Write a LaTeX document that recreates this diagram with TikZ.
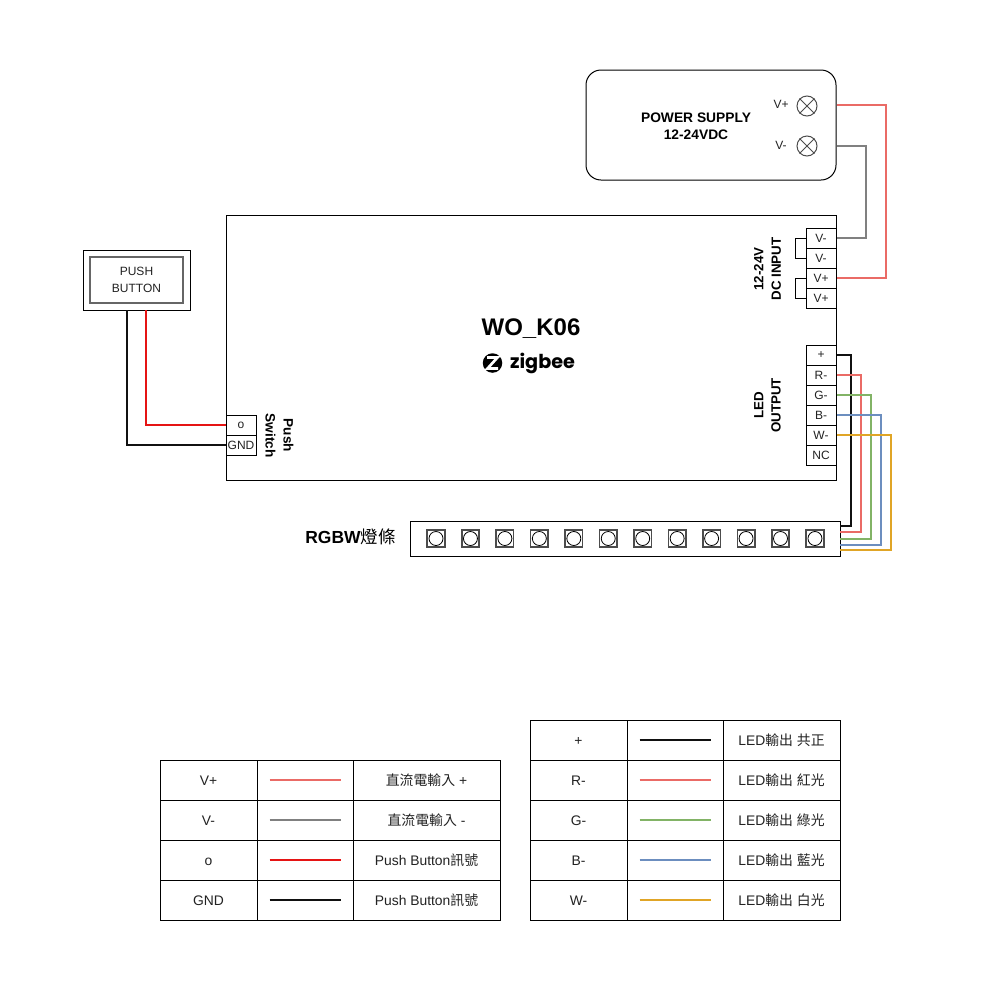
\documentclass[tikz,border=0pt]{standalone}
\usepackage{fontspec}
\setmainfont{Liberation Sans}
\newfontfamily\cjk{Noto Sans CJK TC}
\newfontfamily\zbfont{Poppins}
\usetikzlibrary{calc}
\definecolor{wsalmon}{HTML}{EA6B66}
\definecolor{wgray}{HTML}{808080}
\definecolor{wred}{HTML}{E51414}
\definecolor{wblack}{HTML}{111111}
\definecolor{wgreen}{HTML}{82B366}
\definecolor{wblue}{HTML}{6C8EBF}
\definecolor{wgold}{HTML}{E0A526}
\definecolor{ink}{HTML}{222222}
\def\u{0.75pt}
\newcommand{\C}[1]{{\cjk #1}}
\tikzset{
  px/.style={x=\u,y=-\u},
  txt/.style={font=\fontsize{9}{12.75}\selectfont,text=ink,inner sep=0pt,align=center},
  boldtxt/.style={font=\fontsize{10}{13}\selectfont\bfseries,text=black,inner sep=0pt,align=center},
  box/.style={draw=black,line width=\u,inner sep=0pt,fill=white},
  cell/.style={box,minimum width=30*\u,minimum height=20*\u,font=\fontsize{9}{11}\selectfont,text=ink},
  wire/.style={line width=1.5pt,line join=miter},
  lampc/.style={circle,draw=black!70,line width=\u,minimum size=20*\u,inner sep=0pt},
  led/.style={draw=black!70,line width=1.2pt,fill=white,minimum size=17.5*\u,inner sep=0pt},
  ledc/.style={circle,draw=black,line width=0.6pt,minimum size=14*\u,inner sep=0pt},
  legcell/.style={box,minimum height=40*\u,text height=9pt,text depth=1.5pt,font=\fontsize{10.4}{12}\selectfont,text=ink},
}
% name, x left, x mid1, x mid2, x right, y top, label, colour, text
\newcommand{\legrow}[9]{%
  \node[legcell,minimum width={(#3-#2)*\u}] (#1a) at ({(#2+#3)/2},{#6+20}) {#7};
  \node[legcell,minimum width={(#4-#3)*\u}] (#1b) at ({(#3+#4)/2},{#6+20}) {};
  \node[legcell,minimum width={(#5-#4)*\u}] (#1c) at ({(#4+#5)/2},{#6+20}) {#9};
  \draw[wire,#8] ([xshift=13*\u]#1b.west) -- ([xshift=-13*\u]#1b.east);
}
\begin{document}
\begin{tikzpicture}[px]
\useasboundingbox[fill=white] (0,0) rectangle (1000,1000);

% power supply
\node[box,rounded corners=15*\u,minimum width=250*\u,minimum height=110*\u] (ps) at (711,125) {};
\node[boldtxt,font=\fontsize{10.35}{12.75}\selectfont\bfseries] (pslabel) at (696,126) {POWER SUPPLY\\12-24VDC};
\node[lampc] (lp) at (807,106) {};
\node[lampc] (lm) at (807,146) {};
\foreach \l in {lp,lm}{
  \draw[black!70,line width=\u] (\l.north west) -- (\l.south east) (\l.north east) -- (\l.south west);
}
\node[txt,font=\fontsize{9}{10}\selectfont] (lptext) at (781,104.5) {V+};
\node[txt,font=\fontsize{9}{10}\selectfont] (lmtext) at (781,145) {V-};

% controller
\node[box,minimum width=610*\u,minimum height=265*\u] (board) at (531,347.5) {};
\node[font=\fontsize{18}{20}\selectfont\bfseries,inner sep=0pt] (title) at (531,329) {WO\_K06};
\node[circle,fill=black,minimum size=19.5*\u,inner sep=0pt] (zlogo) at (492.5,363) {};
\draw[white,line width=2pt,line join=miter] ($(zlogo)+(-5.5,-5.5)$) -- ($(zlogo)+(5,-5.5)$) -- ($(zlogo)+(-5,5.5)$) -- ($(zlogo)+(5.5,5.5)$);
\node[font=\fontsize{14.4}{18}\selectfont\zbfont\bfseries,inner sep=0pt] (zword) at (542.5,363.5) {zigbee};

% DC input terminals
\node[cell] (dca) at (821,238) {V-};
\node[cell] (dcb) at (821,258) {V-};
\node[cell] (dcc) at (821,278) {V+};
\node[cell] (dcd) at (821,298) {V+};
\draw[line width=\u] (dca.west) -- ++(-10,0) |- (dcb.west);
\draw[line width=\u] (dcc.west) -- ++(-10,0) |- (dcd.west);
\node[boldtxt,rotate=90] (dclabel) at (767.5,269) {12-24V\\DC INPUT};

% LED output terminals
\node[cell] (lo) at (821,355) {+};
\node[cell] (lr) at (821,375) {R-};
\node[cell] (lg) at (821,395) {G-};
\node[cell] (lb) at (821,415) {B-};
\node[cell] (lw) at (821,435) {W-};
\node[cell] (ln) at (821,455) {NC};
\node[boldtxt,rotate=90] (ledlabel) at (767.5,405.5) {LED\\OUTPUT};

% push switch terminals
\node[cell] (so) at (241,425) {o};
\node[cell] (sg) at (241,445) {GND};
\node[boldtxt,rotate=-90,font=\fontsize{10.2}{13.5}\selectfont\bfseries] (swlabel) at (279.5,435.5) {Push\\Switch};

% push button
\node[box,minimum width=107*\u,minimum height=60*\u] (pbo) at (136.5,280) {};
\node[draw=black!60,line width=1.1pt,minimum width=93*\u,minimum height=46*\u,inner sep=0pt,txt] (pbi) at (136.5,280) {PUSH\\BUTTON};
\coordinate (pbk) at (127,310);
\coordinate (pbr) at (146,310);

% LED strip
\node[box,minimum width=430*\u,minimum height=35*\u] (strip) at (625,538.5) {};
\foreach \i in {0,...,11}{
  \node[led] (led\i) at ({436+\i*34.45},538.5) {};
  \node[ledc] (ledc\i) at (led\i) {};
}
\node[font=\fontsize{13.1}{14}\selectfont\bfseries,inner sep=0pt] (striplabel) at (350.5,537) {RGBW{\cjk\mdseries 燈條}};
\coordinate (sp) at (840,526);
\coordinate (sr) at (840,532);
\coordinate (sg2) at (840,538.5);
\coordinate (sb) at (840,544.5);
\coordinate (sw) at (840,550);

% wires
\draw[wire,wsalmon] (ps.east |- lp) ++(0,-1) -- ++(49.5,0) |- (dcc.east);
\draw[wire,wgray] (ps.east |- lm) -- ++(29.5,0) |- (dca.east);
\draw[wire,wred] (pbr) |- (so.west);
\draw[wire,wblack] (pbk) |- (sg.west);
\draw[wire,wblack] (lo.east) -- ++(14.5,0) |- (sp);
\draw[wire,wsalmon] (lr.east) -- ++(24.5,0) |- (sr);
\draw[wire,wgreen] (lg.east) -- ++(34.5,0) |- (sg2);
\draw[wire,wblue] (lb.east) -- ++(44.5,0) |- (sb);
\draw[wire,wgold] (lw.east) -- ++(54.5,0) |- (sw);

% legend left
\legrow{aa}{160}{257}{353}{500}{760}{V+}{wsalmon}{\C{直流電輸入} +}
\legrow{ab}{160}{257}{353}{500}{800}{V-}{wgray}{\C{直流電輸入} -}
\legrow{ac}{160}{257}{353}{500}{840}{o}{wred}{Push Button\C{訊號}}
\legrow{ad}{160}{257}{353}{500}{880}{GND}{wblack}{Push Button\C{訊號}}
% legend right
\legrow{ba}{530}{627}{723}{840}{720}{+}{wblack}{LED\C{輸出} \C{共正}}
\legrow{bb}{530}{627}{723}{840}{760}{R-}{wsalmon}{LED\C{輸出} \C{紅光}}
\legrow{bc}{530}{627}{723}{840}{800}{G-}{wgreen}{LED\C{輸出} \C{綠光}}
\legrow{bd}{530}{627}{723}{840}{840}{B-}{wblue}{LED\C{輸出} \C{藍光}}
\legrow{be}{530}{627}{723}{840}{880}{W-}{wgold}{LED\C{輸出} \C{白光}}
\end{tikzpicture}
\end{document}
